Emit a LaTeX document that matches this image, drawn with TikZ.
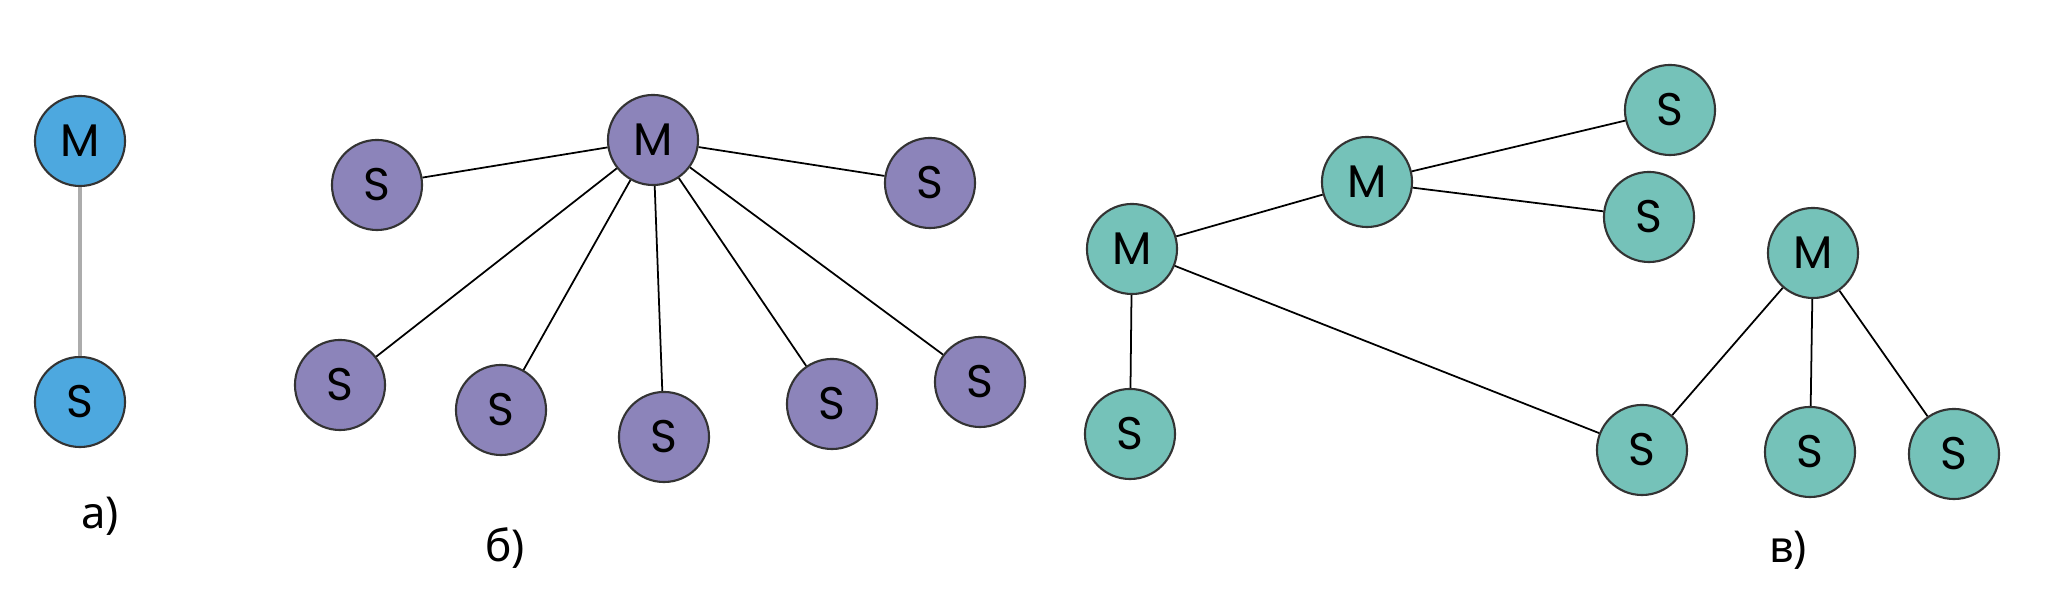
\documentclass[tikz,border=0pt]{standalone}
\usepackage{fontspec}
\setmainfont{Poppins}
\newfontfamily\cyrfont{Noto Sans}
\definecolor{blueM}{HTML}{4DA8DF}
\definecolor{lilac}{HTML}{8C84BA}
\definecolor{teal}{HTML}{75C2B9}
\begin{document}
\begin{tikzpicture}[x=0.01cm,y=-0.01cm,
    dev/.style={circle,draw=black!80,line width=0.6pt,minimum size=0.9cm,inner sep=0pt,font=\fontsize{13}{15}\selectfont},
    link/.style={line width=0.5pt},
    tag/.style={font=\cyrfont\fontsize{12.5}{14}\selectfont}]
  \useasboundingbox (0,0) rectangle (2068,598);
  % a)
  \node[dev,fill=blueM] (aM) at (80,141){M};
  \node[dev,fill=blueM] (aS) at (80,402){S};
  \draw[line width=1pt,gray!65] (aM) -- (aS);
  \node[tag] (la) at (100,516){а)};
  % б)
  \node[dev,fill=lilac] (bM) at (653,140){M};
  \node[dev,fill=lilac] (bS1) at (377,185){S};
  \node[dev,fill=lilac] (bS2) at (930,183){S};
  \node[dev,fill=lilac] (bS3) at (340,385){S};
  \node[dev,fill=lilac] (bS4) at (501,410){S};
  \node[dev,fill=lilac] (bS5) at (664,437){S};
  \node[dev,fill=lilac] (bS6) at (832,404){S};
  \node[dev,fill=lilac] (bS7) at (980,382){S};
  \foreach \s in {bS1,bS2,bS3,bS4,bS5,bS6,bS7}
    \draw[link] (bM) -- (\s);
  \node[tag] (lb) at (505,548){б)};
  % в)
  \node[dev,fill=teal] (cM1) at (1132,249){M};
  \node[dev,fill=teal] (cM2) at (1367,182){M};
  \node[dev,fill=teal] (cM3) at (1813,253){M};
  \node[dev,fill=teal] (cS1) at (1670,110){S};
  \node[dev,fill=teal] (cS2) at (1649,217){S};
  \node[dev,fill=teal] (cS3) at (1130,434){S};
  \node[dev,fill=teal] (cS4) at (1642,450){S};
  \node[dev,fill=teal] (cS5) at (1810,452){S};
  \node[dev,fill=teal] (cS6) at (1954,454){S};
  \draw[link] (cM1) -- (cM2);
  \draw[link] (cM2) -- (cS1);
  \draw[link] (cM2) -- (cS2);
  \draw[link] (cM1) -- (cS3);
  \draw[link] (cM1) -- (cS4);
  \draw[link] (cM3) -- (cS4);
  \draw[link] (cM3) -- (cS5);
  \draw[link] (cM3) -- (cS6);
  \node[tag] (lc) at (1788,550){в)};
\end{tikzpicture}
\end{document}
